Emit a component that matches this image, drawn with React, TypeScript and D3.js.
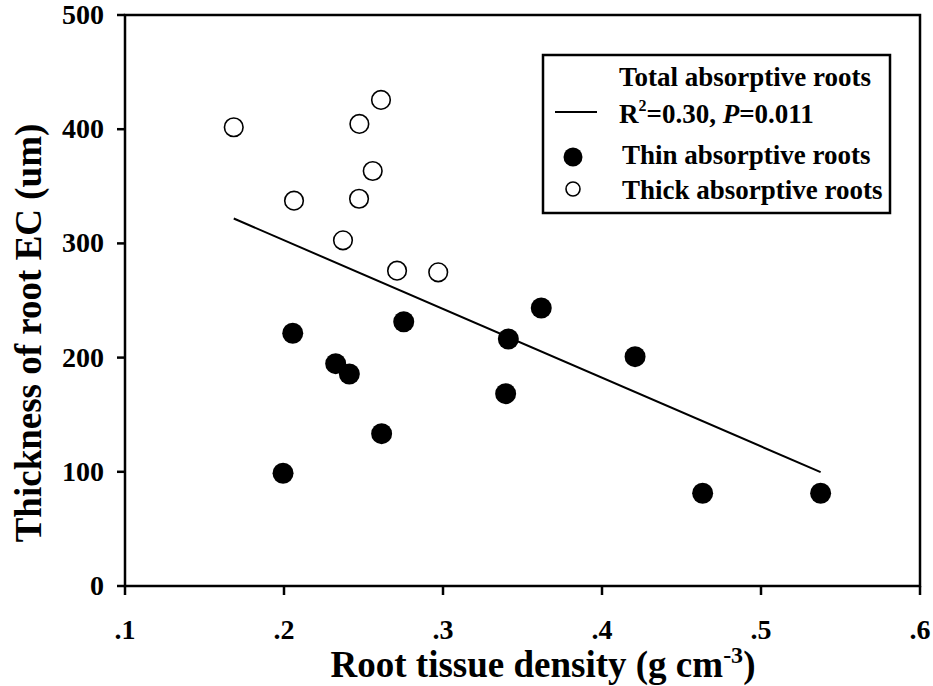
import React from "react";
import * as d3 from "d3";

const thinX = [0.2055, 0.2753, 0.3618, 0.3411, 0.4208, 0.2325, 0.2411, 0.3394, 0.2614, 0.1994, 0.4633, 0.5375];
const thinY = [221.3, 231.4, 243.4, 216.3, 200.8, 194.7, 185.6, 168.4, 133.4, 98.7, 81.2, 81.2];
const thickX = [0.1684, 0.261, 0.2474, 0.2558, 0.2063, 0.2472, 0.2371, 0.2711, 0.297];
const thickY = [401.7, 425.6, 404.6, 363.4, 337.4, 339.1, 302.7, 276.1, 274.7];
const fitIntercept = 423.1;
const fitSlope = -601.7;
const xTicks = [0.1, 0.2, 0.3, 0.4, 0.5, 0.6];
const xTickLabels = [".1", ".2", ".3", ".4", ".5", ".6"];
const yTicks = [0, 100, 200, 300, 400, 500];

const FONT = "'Times New Roman', 'Liberation Serif', serif";

export default function App() {
  const W = 933, H = 686;
  const x = d3.scaleLinear().domain([0.1, 0.6]).range([125, 920]);
  const y = d3.scaleLinear().domain([0, 500]).range([586, 15]);
  const allX = [...thinX, ...thickX];
  const x0 = d3.min(allX)!, x1 = d3.max(allX)!;
  const line = d3.line<number>().x((d) => x(d)).y((d) => y(fitIntercept + fitSlope * d));
  const thin = thinX.map((v, i) => [v, thinY[i]]);
  const thick = thickX.map((v, i) => [v, thickY[i]]);
  return (
    <svg width={W} height={H} style={{ position: "absolute", left: 0, top: 0, background: "#fff" }} fontFamily={FONT} fontWeight="bold">
      <rect x={0} y={0} width={W} height={H} fill="#fff" />
      <rect x={x(0.1)} y={y(500)} width={x(0.6) - x(0.1)} height={y(0) - y(500)} fill="none" stroke="#000" strokeWidth={2.5} />
      {xTicks.map((t, i) => (
        <g key={"xt" + i}>
          <line x1={x(t)} x2={x(t)} y1={y(0)} y2={y(0) + 9} stroke="#000" strokeWidth={2.5} />
          <text x={x(t)} y={639} textAnchor="middle" fontSize={28}>{xTickLabels[i]}</text>
        </g>
      ))}
      {yTicks.map((t, i) => (
        <g key={"yt" + i}>
          <line x1={x(0.1) - 8} x2={x(0.1)} y1={y(t)} y2={y(t)} stroke="#000" strokeWidth={2.5} />
          <text x={104} y={y(t) + 9} textAnchor="end" fontSize={28}>{t}</text>
        </g>
      ))}
      <path d={line([x0, x1]) || ""} stroke="#000" strokeWidth={2} fill="none" />
      {thick.map((d, i) => (
        <circle key={"o" + i} cx={x(d[0])} cy={y(d[1])} r={9.3} fill="#fff" stroke="#000" strokeWidth={1.6} />
      ))}
      {thin.map((d, i) => (
        <circle key={"f" + i} cx={x(d[0])} cy={y(d[1])} r={10.5} fill="#000" />
      ))}
      <text x={543} y={677} textAnchor="middle" fontSize={37}>
        Root tissue density (g cm<tspan fontSize={24} dy={-14}>-3</tspan><tspan dy={14}>)</tspan>
      </text>
      <text transform="translate(41,333) rotate(-90)" textAnchor="middle" fontSize={37}>Thickness of root EC (um)</text>
      <rect x={543} y={55} width={347} height={158} fill="#fff" stroke="#000" strokeWidth={2.5} />
      <text x={619} y={86} fontSize={27}>Total absorptive roots</text>
      <line x1={555} x2={597} y1={112} y2={112} stroke="#000" strokeWidth={2} />
      <text x={619} y={123} fontSize={27}>
        R<tspan fontSize={16} dy={-12}>2</tspan><tspan dy={12}>=0.30, </tspan><tspan fontStyle="italic">P</tspan>=0.011
      </text>
      <circle cx={573} cy={157} r={9.5} fill="#000" />
      <text x={622} y={164} fontSize={27}>Thin absorptive roots</text>
      <circle cx={573} cy={189} r={7} fill="#fff" stroke="#000" strokeWidth={1.6} />
      <text x={622} y={199} fontSize={27}>Thick absorptive roots</text>
    </svg>
  );
}
